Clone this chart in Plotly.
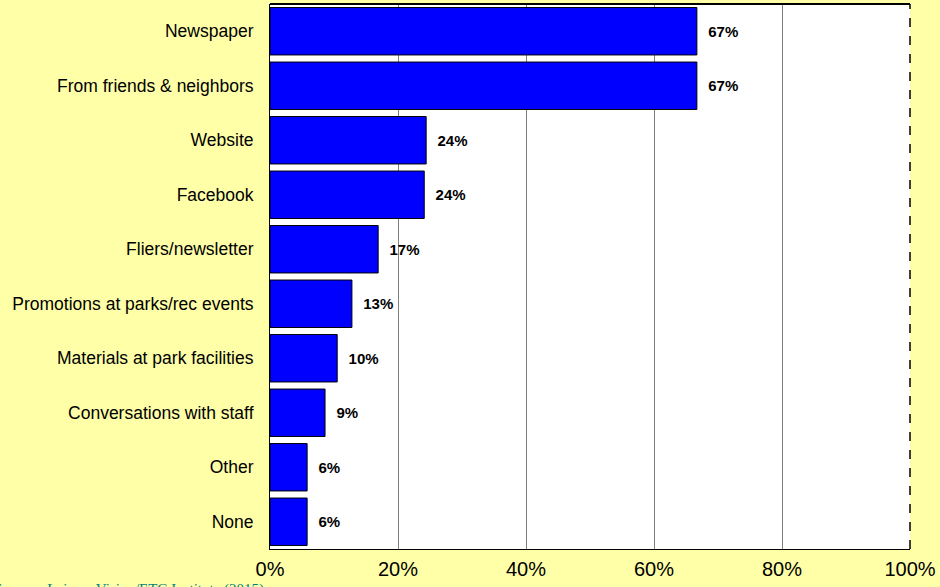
import plotly.graph_objects as go

# categories listed top to bottom
categories = ["Newspaper", "From friends & neighbors", "Website", "Facebook",
              "Fliers/newsletter", "Promotions at parks/rec events",
              "Materials at park facilities", "Conversations with staff",
              "Other", "None"]
values = [66.7, 66.7, 24.4, 24.1, 16.9, 12.8, 10.5, 8.6, 5.8, 5.8]
labels = ["67%", "67%", "24%", "24%", "17%", "13%", "10%", "9%", "6%", "6%"]
tick_vals = [0, 20, 40, 60, 80, 100]
tick_text = ["0%", "20%", "40%", "60%", "80%", "100%"]
source = "Source:  Leisure Vision/ETC Institute (2015)"

bg = "#FFFFA8"

fig = go.Figure(go.Bar(
    y=categories, x=values, orientation="h",
    marker=dict(color="#0000FF", line=dict(color="#000000", width=1)),
    text=["  " + t for t in labels], textposition="outside",
    textfont=dict(family="Arial", size=15, color="#000000", weight="bold"),
    cliponaxis=False,
))

fig.update_layout(
    width=940, height=587,
    margin=dict(l=270, r=30, t=4, b=38),
    paper_bgcolor=bg, plot_bgcolor="#FFFFFF",
    bargap=0.13, showlegend=False,
    font=dict(family="Arial", color="#000000"),
    xaxis=dict(range=[0, 100], tickvals=tick_vals, ticktext=tick_text,
               showgrid=True, gridcolor="#808080", gridwidth=1,
               showline=True, linecolor="#000000", linewidth=1,
               ticks="outside", ticklen=2, tickcolor=bg,
               tickfont=dict(size=20), zeroline=False, automargin=False),
    yaxis=dict(autorange="reversed", showline=True, linecolor="#000000",
               linewidth=1, ticks="outside", ticklen=12, tickcolor=bg,
               tickfont=dict(size=17.5), automargin=False),
    shapes=[
        dict(type="line", xref="paper", yref="paper", x0=0, x1=1, y0=1, y1=1,
             line=dict(color="#000000", width=2)),
        dict(type="line", xref="paper", yref="paper", x0=1, x1=1, y0=0, y1=1,
             line=dict(color="#000000", width=1.5, dash="dash")),
    ],
    annotations=[dict(text=source, xref="paper", yref="paper",
                      x=-0.435, y=-0.0745, xanchor="left", yanchor="middle",
                      showarrow=False,
                      font=dict(family="Liberation Serif", size=15, color="#008080"))],
)

fig.write_html("out.html", config={"displayModeBar": False},
               post_script="document.body.style.margin='0';")
